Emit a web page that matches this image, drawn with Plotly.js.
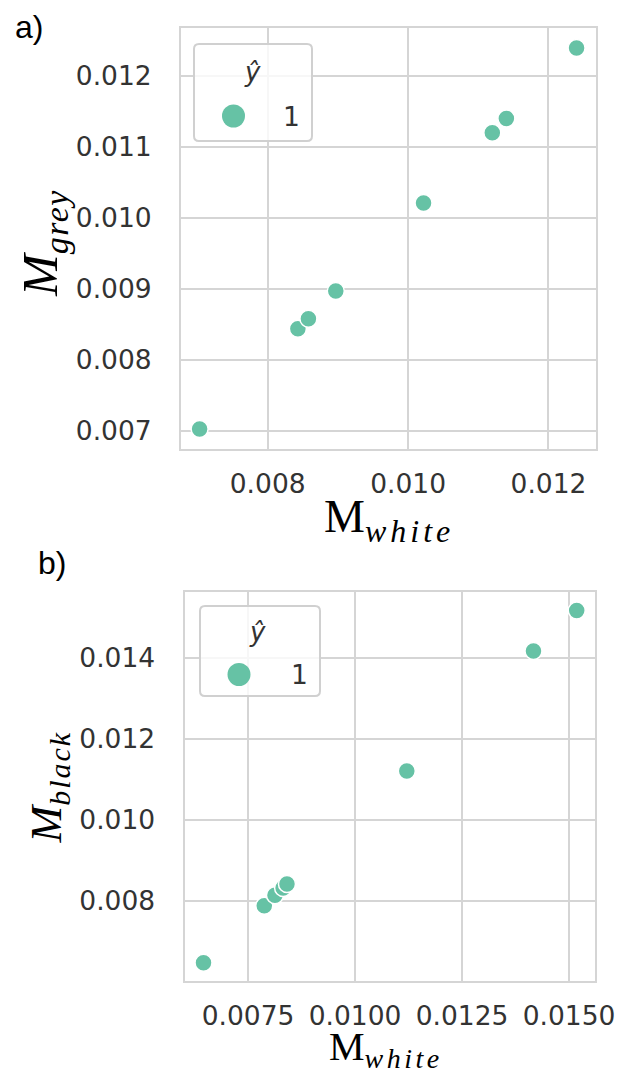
<!DOCTYPE html>
<html>
<head>
<meta charset="utf-8">
<script src="https://cdn.plot.ly/plotly-3.0.1.min.js"></script>
<style>html,body{margin:0;padding:0;background:#fff;}#chart{width:617px;height:1071px;}</style>
</head>
<body>
<div id="chart"></div>
<script>
// ---------- data ----------
var panelALabels = ["a)"];
var panelBLabels = ["b)"];
var hueCategories = ["1"];
var legendTitle = "ŷ";

var whiteA = [0.00703, 0.00843, 0.00858, 0.00897, 0.01022, 0.01120, 0.01140, 0.01240];
var greyA  = [0.00703, 0.00844, 0.00858, 0.00897, 0.01021, 0.01120, 0.01140, 0.01239];

var whiteB = [0.00646, 0.00788, 0.00813, 0.00832, 0.00841, 0.01121, 0.01417, 0.01518];
var blackB = [0.00646, 0.00787, 0.00813, 0.00831, 0.00841, 0.01121, 0.01418, 0.01518];

// ---------- helpers (pixel -> paper) ----------
var W = 617, H = 1071;
function px(x){ return x / W; }
function py(y){ return 1 - y / H; }

var teal = '#66c2a5';
var gridCol = '#d5d5d5';
var tickFont = {family: 'DejaVu Sans', size: 26.5, color: '#333333'};

function roundRect(x0, y0, x1, y1, r){
  var rx = r / W, ry = r / H;
  var X0 = px(x0), X1 = px(x1), Y0 = py(y0), Y1 = py(y1);
  return 'M ' + (X0 + rx) + ',' + Y0 +
    ' L ' + (X1 - rx) + ',' + Y0 +
    ' Q ' + X1 + ',' + Y0 + ' ' + X1 + ',' + (Y0 - ry) +
    ' L ' + X1 + ',' + (Y1 + ry) +
    ' Q ' + X1 + ',' + Y1 + ' ' + (X1 - rx) + ',' + Y1 +
    ' L ' + (X0 + rx) + ',' + Y1 +
    ' Q ' + X0 + ',' + Y1 + ' ' + X0 + ',' + (Y1 + ry) +
    ' L ' + X0 + ',' + (Y0 - ry) +
    ' Q ' + X0 + ',' + Y0 + ' ' + (X0 + rx) + ',' + Y0 + ' Z';
}

function axisCommon(){
  return {
    showgrid: true, gridcolor: gridCol, gridwidth: 2,
    showline: true, linecolor: gridCol, linewidth: 2, mirror: true,
    zeroline: false, ticks: '', tickfont: tickFont, fixedrange: true
  };
}

var xa = Object.assign(axisCommon(), {
  domain: [px(181), px(596)], range: [0.006765, 0.012677],
  tick0: 0, dtick: 0.002, tickformat: '.3f', anchor: 'y', ticklabelstandoff: 10
});
var ya = Object.assign(axisCommon(), {
  domain: [py(448.7), py(28.2)], range: [0.006752, 0.01267],
  tick0: 0, dtick: 0.001, tickformat: '.3f', anchor: 'x', ticklabelstandoff: 22
});
var xb = Object.assign(axisCommon(), {
  domain: [px(184.5), px(595.4)], range: [0.006016, 0.015617],
  tick0: 0, dtick: 0.0025, tickformat: '.4f', anchor: 'y2', ticklabelstandoff: 10
});
var yb = Object.assign(axisCommon(), {
  domain: [py(981.3), py(592.1)], range: [0.006002, 0.015636],
  tick0: 0, dtick: 0.002, tickformat: '.3f', anchor: 'x2', ticklabelstandoff: 22
});

var markerStyle = {size: 17, color: teal, line: {color: '#ffffff', width: 1.5}};

var traces = [
  {type: 'scatter', mode: 'markers', x: whiteA, y: greyA, xaxis: 'x', yaxis: 'y',
   marker: markerStyle, name: hueCategories[0], showlegend: false, hoverinfo: 'x+y'},
  {type: 'scatter', mode: 'markers', x: whiteB, y: blackB, xaxis: 'x2', yaxis: 'y2',
   marker: markerStyle, name: hueCategories[0], showlegend: false, hoverinfo: 'x+y'}
];

function ann(x, y, text, font, extra){
  return Object.assign({xref: 'paper', yref: 'paper', x: px(x), y: py(y), text: text,
    showarrow: false, font: font, xanchor: 'center', yanchor: 'middle'}, extra || {});
}

var serif = 'Liberation Serif';
var annotations = [
  ann(28.5, 27, panelALabels[0], {family: 'Liberation Sans', size: 32, color: '#000'}),
  ann(51.5, 563, panelBLabels[0], {family: 'Liberation Sans', size: 32, color: '#000'}),
  ann(389, 520, 'M<sub><span style="font-size:32px;letter-spacing:4px;font-style:italic">white</span></sub>',
      {family: serif, size: 46, color: '#000'}),
  ann(386, 1049, 'M<sub><span style="font-size:28px;letter-spacing:3.5px;font-style:italic">white</span></sub>',
      {family: serif, size: 40, color: '#000'}),
  ann(44, 243, '<i>M</i><sub><span style="font-size:34px;letter-spacing:1.5px;font-style:italic">grey</span></sub>',
      {family: serif, size: 50, color: '#000'}, {textangle: -90}),
  ann(48, 787.5, '<i>M</i><sub><span style="font-size:30px;letter-spacing:2px;font-style:italic">black</span></sub>',
      {family: serif, size: 44, color: '#000'}, {textangle: -90}),
  ann(252, 72, '<i>' + legendTitle + '</i>', {family: 'DejaVu Sans', size: 26, color: '#333333'}),
  ann(291.5, 116, hueCategories[0], {family: 'DejaVu Sans', size: 26.5, color: '#333333'}),
  ann(257.5, 632, '<i>' + legendTitle + '</i>', {family: 'DejaVu Sans', size: 26, color: '#333333'}),
  ann(299, 674, hueCategories[0], {family: 'DejaVu Sans', size: 26.5, color: '#333333'})
];

var shapes = [
  {type: 'path', xref: 'paper', yref: 'paper', path: roundRect(194, 44, 312, 141, 5),
   fillcolor: 'rgba(255,255,255,0.8)', line: {color: '#d0d0d0', width: 2}, layer: 'above'},
  {type: 'circle', xref: 'paper', yref: 'paper', x0: px(222), x1: px(245), y0: py(104.5), y1: py(127.5),
   fillcolor: teal, line: {color: '#ffffff', width: 0}, layer: 'above'},
  {type: 'path', xref: 'paper', yref: 'paper', path: roundRect(200, 606, 320, 696, 5),
   fillcolor: 'rgba(255,255,255,0.8)', line: {color: '#d0d0d0', width: 2}, layer: 'above'},
  {type: 'circle', xref: 'paper', yref: 'paper', x0: px(227.5), x1: px(250.5), y0: py(663), y1: py(686),
   fillcolor: teal, line: {color: '#ffffff', width: 0}, layer: 'above'}
];

var layout = {
  width: W, height: H, margin: {l: 0, r: 0, t: 0, b: 0},
  paper_bgcolor: '#ffffff', plot_bgcolor: '#ffffff',
  showlegend: false,
  xaxis: xa, yaxis: ya, xaxis2: xb, yaxis2: yb,
  annotations: annotations, shapes: shapes
};

Plotly.newPlot('chart', traces, layout, {displayModeBar: false, staticPlot: true});
</script>
</body>
</html>
